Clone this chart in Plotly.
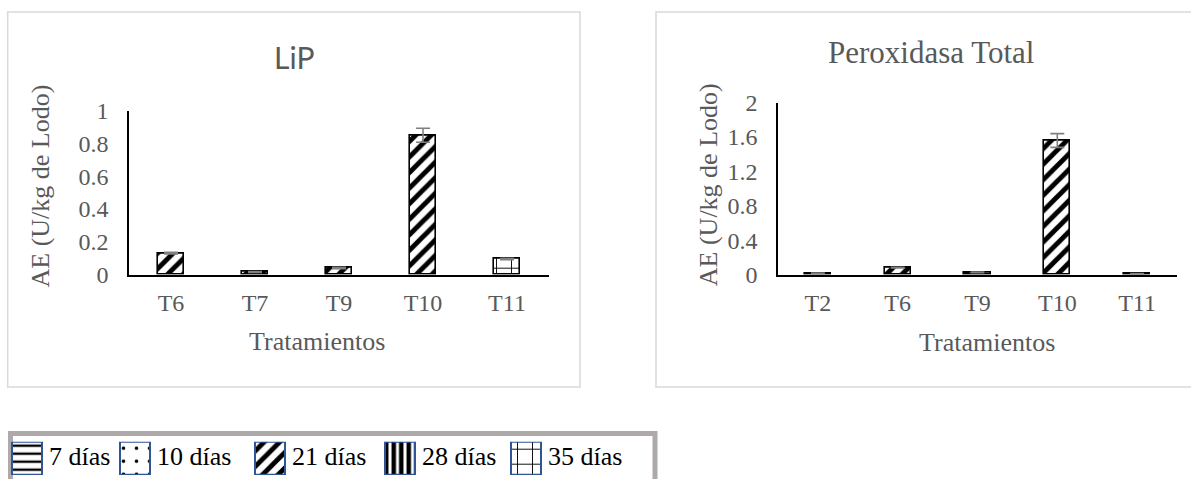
import plotly.graph_objects as go

# ---------------- data ----------------
lip_cats = ["T6", "T7", "T9", "T10", "T11"]
lip_vals = [0.13, 0.015, 0.04, 0.85, 0.095]
lip_err = [0.005, 0.003, 0.004, 0.043, 0.004]
lip_pat = ["/", "/", "/", "/", "+"]

per_cats = ["T2", "T6", "T9", "T10", "T11"]
per_vals = [0.015, 0.08, 0.025, 1.56, 0.008]
per_err = [0.003, 0.005, 0.004, 0.08, 0.002]
per_pat = ["/", "/", "/", "/", "/"]

legend_labels = ["7 días", "10 días", "21 días", "28 días", "35 días"]
legend_pat = ["-", ".", "/", "|", "+"]

# ---------------- layout helpers ----------------
W, H = 1191, 479
def px(x):
    return x / W
def py(y):
    return 1 - y / H

SERIF = "Liberation Serif, Times New Roman, serif"
GRAY = "#595959"

legend_key_x = [27, 135, 270, 400, 526]   # layout positions of legend keys (px)
legend_key_w = 30

pat_size = {"/": 11, "+": 15, "-": 8, ".": 13, "|": 7.5}
pat_sol = {"/": 0.45, "+": 0.12, "-": 0.3, ".": 0.06, "|": 0.6}

def pattern(shapes):
    return dict(shape=shapes, fgcolor="black", bgcolor="white", fgopacity=1,
                fillmode="replace",
                size=[pat_size[p] for p in shapes],
                solidity=[pat_sol[p] for p in shapes])

fig = go.Figure()

fig.add_trace(go.Bar(
    x=lip_cats, y=lip_vals, width=0.32,
    marker=dict(color="white", line=dict(color="black", width=1.6), pattern=pattern(lip_pat)),
    error_y=dict(type="data", array=lip_err, color="#7F7F7F", thickness=1.6, width=7),
    xaxis="x", yaxis="y", showlegend=False,
))

fig.add_trace(go.Bar(
    x=per_cats, y=per_vals, width=0.33,
    marker=dict(color="white", line=dict(color="black", width=1.6), pattern=pattern(per_pat)),
    error_y=dict(type="data", array=per_err, color="#7F7F7F", thickness=1.6, width=7),
    xaxis="x2", yaxis="y2", showlegend=False,
))

# legend keys drawn as small patterned squares
fig.add_trace(go.Bar(
    x=legend_key_x, y=[1] * len(legend_labels), width=legend_key_w,
    marker=dict(color="white", line=dict(color="#2F5597", width=2), pattern=pattern(legend_pat)),
    xaxis="x3", yaxis="y3", showlegend=False, hoverinfo="skip",
))

common_x = dict(type="category", showline=True, linecolor="black", linewidth=1.6,
                ticks="", showgrid=False, zeroline=False, range=[-0.5, 4.5],
                automargin=False,
                tickfont=dict(family=SERIF, size=24, color=GRAY),
                ticklabelstandoff=6)
common_y = dict(showline=True, linecolor="black", linewidth=1.6, ticks="",
                showgrid=False, zeroline=False, automargin=False,
                tickfont=dict(family=SERIF, size=24, color=GRAY),
                ticklabelstandoff=14)

fig.update_layout(
    width=W, height=H,
    margin=dict(l=0, r=0, t=0, b=0, pad=0, autoexpand=False),
    paper_bgcolor="white", plot_bgcolor="white",
    showlegend=False,
    bargap=0,
    xaxis=dict(domain=[px(129), px(549)], anchor="y", **common_x),
    yaxis=dict(domain=[py(274.5), py(110.7)], anchor="x", range=[0, 1], dtick=0.2, **common_y),
    xaxis2=dict(domain=[px(778), px(1177)], anchor="y2", **common_x),
    yaxis2=dict(domain=[py(274.5), py(102.7)], anchor="x2", range=[0, 2], dtick=0.4, **common_y),
    xaxis3=dict(domain=[0, 1], anchor="y3", range=[0, W], visible=False, fixedrange=True, automargin=False),
    yaxis3=dict(domain=[py(475), py(441.7)], anchor="x3", range=[0, 1], visible=False, fixedrange=True,
                automargin=False),
)

# legend box: only top, left and right edges are visible in the picture
lx0, lx1, ly_top, ly_bot = px(10.5), px(655), py(433.5), py(520)
legend_path = f"M {lx0} {ly_bot} L {lx0} {ly_top} L {lx1} {ly_top} L {lx1} {ly_bot}"

shapes = [
    dict(type="rect", xref="paper", yref="paper", x0=px(7.7), x1=px(580), y0=py(387), y1=py(12),
         line=dict(color="#D9D9D9", width=1.5), layer="below"),
    dict(type="rect", xref="paper", yref="paper", x0=px(656), x1=px(1205), y0=py(387), y1=py(12),
         line=dict(color="#D9D9D9", width=1.5), layer="below"),
    dict(type="path", xref="paper", yref="paper", path=legend_path,
         line=dict(color="#AEAAAA", width=5), layer="below"),
]
fig.update_layout(shapes=shapes)

ann = [
    dict(text="LiP", x=px(293.5), y=py(57), font=dict(family="Lato, sans-serif", size=30, color=GRAY)),
    dict(text="Peroxidasa Total", x=px(931), y=py(52), font=dict(family=SERIF, size=31, color=GRAY)),
    dict(text="AE (U/kg de Lodo)", x=px(40), y=py(186.5), textangle=-90,
         font=dict(family=SERIF, size=26, color=GRAY)),
    dict(text="AE (U/kg de Lodo)", x=px(708.7), y=py(184.5), textangle=-90,
         font=dict(family=SERIF, size=26, color=GRAY)),
    dict(text="Tratamientos", x=px(317), y=py(341), font=dict(family=SERIF, size=26, color=GRAY)),
    dict(text="Tratamientos", x=px(987), y=py(342), font=dict(family=SERIF, size=26, color=GRAY)),
]
for a in ann:
    a.update(xref="paper", yref="paper", showarrow=False, xanchor="center", yanchor="middle")

for lab, kx in zip(legend_labels, legend_key_x):
    ann.append(dict(text=lab, x=px(kx + legend_key_w / 2 + 5), y=py(456), xref="paper", yref="paper",
                    showarrow=False, xanchor="left", yanchor="middle",
                    font=dict(family=SERIF, size=26, color="black")))
fig.update_layout(annotations=ann)

fig.write_html("out.html")
